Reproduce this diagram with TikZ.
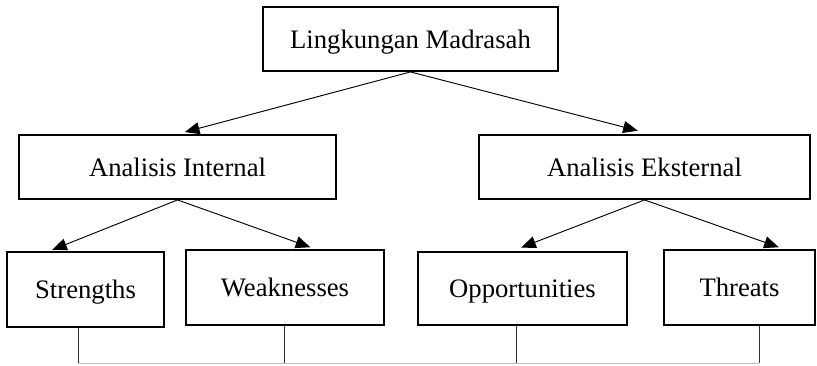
\documentclass[tikz,border=0pt]{standalone}
\usepackage{xcolor}
\usepackage{fontspec}
\setmainfont{Liberation Serif}
\usepackage{tikz}
\usetikzlibrary{arrows, arrows.meta, positioning, calc}

\tikzset{
    block/.style={rectangle, draw, line width=1.4pt, inner sep=0pt, align=center,
        text height=16pt, text depth=2pt, font=\fontsize{20}{24}\selectfont},
    link/.style={-{Triangle[length=11pt,width=9pt]}, line width=0.7pt},
    feed/.style={line width=0.5pt, black!80},
}

\begin{document}
\begin{tikzpicture}[x=0.75pt, y=-0.75pt]
        \useasboundingbox (0,0) rectangle (817,366);
        \node (Madrasah) [block, minimum width=221pt, minimum height=48pt] at (410.5,39) {Lingkungan Madrasah};
        \node (Internal) [block, minimum width=238pt, minimum height=48pt] at (177.5,167) {Analisis Internal};
        \node (Eksternal) [block, minimum width=248pt, minimum height=48pt] at (644.5,167) {Analisis Eksternal};
        \node (Strengths) [block, minimum width=118pt, minimum height=56pt] at (85.5,289.5) {Strengths};
        \node (Weaknesses) [block, minimum width=148.5pt, minimum height=56pt] at (285,287.5) {Weaknesses};
        \node (Opportunities) [block, minimum width=157pt, minimum height=55pt] at (522.5,288.5) {Opportunities};
        \node (Threats) [block, minimum width=113pt, minimum height=56pt] at (739.5,287.5) {Threats};

        \draw[link] (Madrasah.south) -- ([xshift=5.5pt,yshift=1.5pt]Internal.north);
        \draw[link] (Madrasah.south) -- ([xshift=-5pt,yshift=2.5pt]Eksternal.north);
        \draw[link] (Internal.south) -- ([xshift=-25pt,yshift=1pt]Strengths.north);
        \draw[link] (Internal.south) -- ([xshift=19pt,yshift=1.5pt]Weaknesses.north);
        \draw[link] (Eksternal.south) -- ([xshift=-1pt,yshift=2.5pt]Opportunities.north);
        \draw[link] (Eksternal.south) -- ([xshift=29.5pt,yshift=1.5pt]Threats.north);

        % lines under the four boxes
        \coordinate (sEnd) at (78,363);
        \coordinate (wEnd) at (284,363);
        \coordinate (oEnd) at (516,363);
        \coordinate (tEnd) at (759,363);
        \draw[feed] (Strengths.south -| sEnd) -- (sEnd);
        \draw[feed] (Weaknesses.south -| wEnd) -- (wEnd);
        \draw[feed] (Opportunities.south -| oEnd) -- (oEnd);
        \draw[feed] (Threats.south -| tEnd) -- (tEnd);
        \draw[feed, black!25] (sEnd) -- (tEnd);
    \end{tikzpicture}
\end{document}
